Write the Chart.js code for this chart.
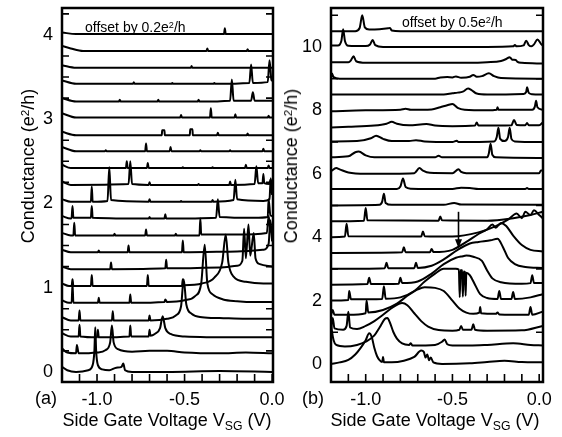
<!DOCTYPE html>
<html><head><meta charset="utf-8">
<script src="https://cdn.jsdelivr.net/npm/chart.js@4/dist/chart.umd.min.js"></script>
<style>
html,body{margin:0;padding:0;background:#fff;}
#wrap{position:relative;width:562px;height:437px;overflow:hidden;font-family:"Liberation Sans",Arial,Helvetica,sans-serif;color:#000;}
canvas{position:absolute;top:0;}
.t{position:absolute;white-space:nowrap;font-size:18px;line-height:18px;}
.s{font-size:14px;line-height:14px;}
sup{font-size:65%;vertical-align:0.45em;line-height:0;}
sub{font-size:68%;vertical-align:-0.3em;line-height:0;}
.rot{transform:translate(-50%,-50%) rotate(-90deg);}
.ctr{transform:translate(-50%,-50%);}
</style></head>
<body><div id="wrap">
<canvas id="ca" width="300" height="437" style="left:0px"></canvas>
<canvas id="cb" width="267" height="437" style="left:295px"></canvas>
<div class="t rot" style="left:28px;top:166px">Conductance (e<sup>2</sup>/h)</div>
<div class="t rot" style="left:291px;top:166px">Conductance (e<sup>2</sup>/h)</div>
<div class="t ctr" style="left:167px;top:420px">Side Gate Voltage V<sub>SG</sub> (V)</div>
<div class="t ctr" style="left:435px;top:420px">Side Gate Voltage V<sub>SG</sub> (V)</div>
<div class="t" style="left:35px;top:389px">(a)</div>
<div class="t" style="left:302px;top:389px">(b)</div>
<div class="t s" style="left:85px;top:20px">offset by 0.2e<sup>2</sup>/h</div>
<div class="t s" style="left:402px;top:15px">offset by 0.5e<sup>2</sup>/h</div>
</div>
<script>
// ---------- tick labels ----------
const xTickLabels = [-1.0, -0.5, 0.0];
const xMinorTicks = [-1.1,-1.0,-0.9,-0.8,-0.7,-0.6,-0.5,-0.4,-0.3,-0.2,-0.1,0.0];
const yTickLabelsA = [0, 1, 2, 3, 4];
const yMinorTicksA = [0.25,0.5,0.75,1.25,1.5,1.75,2.25,2.5,2.75,3.25,3.5,3.75,4.25];
const yTickLabelsB = [0, 2, 4, 6, 8, 10];
const yMinorTicksB = [1,3,5,7,9,11];

// ---------- offsets (e^2/h) ----------
const offsetsA = [0,0.2,0.4,0.6,0.8,1.0,1.2,1.4,1.6,1.8,2.0,2.2,2.4,2.6,2.8,3.0,3.2,3.4,3.6,3.8,4.0];
const offsetsB = [0,0.5,1.0,1.5,2.0,2.5,3.0,3.5,4.0,4.5,5.0,5.5,6.0,6.5,7.0,7.5,8.0,8.5,9.0,9.5,10.0,10.5];

// ---------- panel (a) traces: [V_SG, G before offset] ----------
const a00 = [[-1.2,0.06],[-1.17,0.02],[-1.12,0],[-1.05,0.02],[-1.025,0.08],[-1.015,0.25],[-1.01,0.53],[-1.005,0.25],[-0.995,0.08],[-0.97,0.03],[-0.93,0.02],[-0.89,0.05],[-0.86,0.06],[-0.85,0.1],[-0.84,0.02],[-0.8,0],[-0.6,0],[-0.3,0.01],[0,0]];
const a01 = [[-1.2,0.08],[-1.17,0.03],[-1.12,0.02],[-1.115,0.12],[-1.105,0.02],[-1.0,0.03],[-0.95,0.06],[-0.925,0.15],[-0.915,0.35],[-0.905,0.15],[-0.88,0.07],[-0.8,0.04],[-0.7,0.05],[-0.6,0.05],[-0.5,0.03],[-0.3,0.02],[-0.15,0.03],[0,0.02]];
const a02 = [[-1.2,0.06],[-1.15,0.02],[-1.105,0.02],[-1.1,0.16],[-1.095,0.02],[-1.0,0.01],[-0.995,0.1],[-0.99,0.01],[-0.815,0.02],[-0.81,0.15],[-0.805,0.02],[-0.705,0.02],[-0.7,0.1],[-0.695,0.03],[-0.67,0.05],[-0.64,0.12],[-0.625,0.26],[-0.61,0.12],[-0.58,0.05],[-0.5,0.02],[-0.2,0.01],[0,0.01]];
const a03 = [[-1.2,0.05],[-1.15,0.01],[-1.105,0.01],[-1.1,0.13],[-1.095,0.01],[-0.915,0.01],[-0.91,0.12],[-0.905,0.01],[-0.705,0.01],[-0.7,0.07],[-0.695,0.01],[-0.6,0.03],[-0.55,0.07],[-0.52,0.18],[-0.505,0.5],[-0.49,0.2],[-0.46,0.09],[-0.4,0.05],[-0.3,0.04],[-0.15,0.03],[0,0.03]];
const a04 = [[-1.2,0.05],[-1.16,0.02],[-1.145,0.02],[-1.14,0.25],[-1.135,0.02],[-0.995,0.02],[-0.99,0.08],[-0.985,0.02],[-0.815,0.02],[-0.81,0.12],[-0.805,0.02],[-0.615,0.03],[-0.61,0.06],[-0.6,0.03],[-0.5,0.05],[-0.44,0.1],[-0.405,0.25],[-0.385,0.71],[-0.37,0.25],[-0.34,0.12],[-0.28,0.06],[-0.2,0.04],[-0.1,0.03],[0,0.03]];
const a05 = [[-1.2,0.05],[-1.16,0.02],[-1.145,0.02],[-1.14,0.1],[-1.135,0.02],[-1.035,0.02],[-1.03,0.15],[-1.025,0.02],[-0.715,0.02],[-0.71,0.15],[-0.705,0.02],[-0.515,0.02],[-0.51,0.1],[-0.505,0.03],[-0.4,0.05],[-0.33,0.12],[-0.285,0.3],[-0.265,0.63],[-0.25,0.3],[-0.22,0.13],[-0.15,0.07],[-0.05,0.05],[0,0.05]];
const a06 = [[-1.2,0.05],[-1.15,0.02],[-0.925,0.02],[-0.92,0.1],[-0.915,0.02],[-0.61,0.03],[-0.605,0.13],[-0.6,0.03],[-0.3,0.04],[-0.2,0.06],[-0.17,0.12],[-0.16,0.5],[-0.15,0.15],[-0.135,0.55],[-0.125,0.18],[-0.105,0.45],[-0.095,0.15],[-0.07,0.08],[0,0.05]];
const a07 = [[-1.2,0.05],[-1.15,0.02],[-0.995,0.02],[-0.99,0.04],[-0.985,0.02],[-0.825,0.02],[-0.82,0.1],[-0.815,0.02],[-0.515,0.02],[-0.51,0.16],[-0.505,0.02],[-0.2,0.03],[-0.05,0.05],[-0.02,0.12],[-0.01,0.4],[0,0.15]];
const a08 = [[-1.2,0.05],[-1.15,0.02],[-1.135,0.02],[-1.13,0.17],[-1.125,0.02],[-0.905,0.02],[-0.9,0.04],[-0.895,0.02],[-0.725,0.02],[-0.72,0.09],[-0.715,0.02],[-0.555,0.02],[-0.55,0.04],[-0.545,0.02],[-0.415,0.02],[-0.41,0.22],[-0.405,0.03],[-0.2,0.03],[-0.03,0.05],[-0.02,0.25],[-0.01,0.08],[0,0.06]];
const a09 = [[-1.2,0.05],[-1.15,0.02],[-1.145,0.03],[-1.14,0.17],[-1.135,0.03],[-1.035,0.03],[-1.03,0.17],[-1.025,0.03],[-0.705,0.02],[-0.7,0.04],[-0.695,0.02],[-0.615,0.02],[-0.61,0.07],[-0.605,0.02],[-0.32,0.03],[-0.31,0.25],[-0.3,0.04],[-0.1,0.03],[-0.025,0.04],[-0.02,0.25],[-0.01,0.06],[0,0.05]];
const a10 = [[-1.2,0.05],[-1.15,0.02],[-1.035,0.02],[-1.03,0.2],[-1.025,0.02],[-0.94,0.03],[-0.93,0.43],[-0.92,0.04],[-0.705,0.02],[-0.7,0.05],[-0.695,0.02],[-0.525,0.02],[-0.52,0.03],[-0.515,0.02],[-0.345,0.02],[-0.34,0.04],[-0.335,0.02],[-0.22,0.04],[-0.21,0.28],[-0.2,0.05],[-0.05,0.03],[-0.015,0.05],[-0.008,0.3],[0,0.1]];
const a11 = [[-1.2,0.06],[-1.15,0.02],[-0.82,0.03],[-0.81,0.3],[-0.8,0.03],[-0.705,0.02],[-0.7,0.05],[-0.695,0.02],[-0.425,0.02],[-0.42,0.03],[-0.415,0.02],[-0.245,0.02],[-0.24,0.06],[-0.235,0.02],[-0.1,0.03],[-0.09,0.24],[-0.08,0.04],[-0.055,0.04],[-0.05,0.15],[-0.045,0.04],[-0.015,0.03],[-0.01,0.08],[0,0.03]];
const a12 = [[-1.2,0.06],[-1.15,0.02],[-0.835,0.02],[-0.83,0.1],[-0.825,0.02],[-0.715,0.02],[-0.71,0.08],[-0.705,0.02],[-0.515,0.02],[-0.51,0.03],[-0.505,0.02],[-0.345,0.02],[-0.34,0.03],[-0.335,0.02],[-0.155,0.02],[-0.15,0.06],[-0.145,0.02],[-0.025,0.02],[-0.02,0.05],[-0.015,0.02],[0,0.02]];
const a13 = [[-1.2,0.07],[-1.12,0.02],[-0.955,0.02],[-0.95,0.03],[-0.945,0.02],[-0.725,0.02],[-0.72,0.11],[-0.715,0.02],[-0.585,0.02],[-0.58,0.07],[-0.575,0.02],[-0.415,0.02],[-0.41,0.03],[-0.405,0.02],[-0.245,0.02],[-0.24,0.03],[-0.235,0.02],[-0.055,0.02],[-0.05,0.05],[-0.045,0.02],[0,0.02]];
const a14 = [[-1.2,0.05],[-1.12,0.01],[-0.63,0.01],[-0.628,0.07],[-0.615,0.07],[-0.613,0.01],[-0.47,0.01],[-0.468,0.08],[-0.455,0.08],[-0.453,0.01],[-0.315,0.01],[-0.31,0.04],[-0.305,0.01],[-0.145,0.01],[-0.14,0.03],[-0.135,0.01],[0,0.01]];
const a15 = [[-1.2,0.07],[-1.12,0.02],[-0.525,0.02],[-0.52,0.05],[-0.515,0.02],[-0.355,0.02],[-0.35,0.13],[-0.345,0.02],[-0.215,0.02],[-0.21,0.06],[-0.205,0.02],[-0.025,0.02],[-0.02,0.04],[-0.015,0.02],[0,0.02]];
const a16 = [[-1.2,0.05],[-1.12,0.01],[-0.875,0.01],[-0.87,0.03],[-0.865,0.01],[-0.655,0.01],[-0.65,0.03],[-0.645,0.01],[-0.425,0.01],[-0.42,0.03],[-0.415,0.01],[-0.24,0.02],[-0.23,0.27],[-0.22,0.02],[-0.12,0.02],[-0.11,0.12],[-0.1,0.02],[0,0.02]];
const a17 = [[-1.2,0.06],[-1.12,0.02],[-0.795,0.02],[-0.79,0.04],[-0.785,0.02],[-0.575,0.02],[-0.57,0.03],[-0.565,0.02],[-0.335,0.02],[-0.33,0.03],[-0.325,0.02],[-0.13,0.03],[-0.12,0.25],[-0.11,0.03],[-0.025,0.04],[-0.015,0.3],[-0.005,0.08],[0,0.05]];
const a18 = [[-1.2,0.04],[-1.12,0.01],[-0.465,0.01],[-0.46,0.03],[-0.455,0.01],[0,0.01]];
const a19 = [[-1.2,0.07],[-1.15,0.04],[-1.08,0.01],[-0.375,0.01],[-0.37,0.04],[-0.365,0.01],[-0.145,0.01],[-0.14,0.03],[-0.135,0.01],[0,0.01]];
const a20 = [[-1.2,0.03],[-1.12,0.01],[-0.275,0.01],[-0.27,0.08],[-0.265,0.01],[0,0.01]];

// ---------- panel (b) traces ----------
const b00 = [[-1.2,0],[-1.15,0.05],[-1.1,0.13],[-1.06,0.3],[-1.03,0.5],[-1.0,0.75],[-0.98,0.97],[-0.965,0.85],[-0.95,0.5],[-0.935,0.25],[-0.92,0.12],[-0.905,0.06],[-0.9,0.22],[-0.895,0.05],[-0.85,0.05],[-0.78,0.1],[-0.72,0.22],[-0.68,0.42],[-0.665,0.38],[-0.655,0.2],[-0.645,0.3],[-0.635,0.12],[-0.625,0.2],[-0.61,0.05],[-0.56,0.0],[-0.4,0.02],[-0.3,0.06],[-0.2,0.1],[-0.1,0.06],[0.02,0.05]];
const b01 = [[-1.2,0.8],[-1.195,0.55],[-1.185,0.25],[-1.17,0.1],[-1.12,0.05],[-1.05,0.1],[-1.0,0.2],[-0.95,0.4],[-0.92,0.65],[-0.89,0.92],[-0.875,0.95],[-0.86,0.8],[-0.84,0.5],[-0.82,0.3],[-0.79,0.15],[-0.75,0.1],[-0.74,0.15],[-0.73,0.08],[-0.6,0.1],[-0.56,0.2],[-0.545,0.27],[-0.53,0.12],[-0.5,0.08],[-0.4,0.08],[-0.3,0.1],[-0.15,0.15],[-0.05,0.1],[0.02,0.08]];
const b02 = [[-1.2,0.1],[-1.19,0.45],[-1.18,0.12],[-1.13,0.08],[-1.11,0.2],[-1.1,0.65],[-1.09,0.15],[-1.05,0.1],[-1.0,0.2],[-0.95,0.35],[-0.9,0.55],[-0.84,0.8],[-0.79,0.92],[-0.76,0.85],[-0.72,0.6],[-0.68,0.35],[-0.64,0.18],[-0.58,0.07],[-0.5,0.05],[-0.46,0.08],[-0.45,0.2],[-0.44,0.08],[-0.39,0.08],[-0.38,0.25],[-0.37,0.08],[-0.3,0.05],[-0.1,0.06],[0.02,0.2]];
const b03 = [[-1.2,0.05],[-1.19,0.2],[-1.18,0.05],[-1.1,0.05],[-1.0,0.1],[-0.995,0.5],[-0.985,0.12],[-0.9,0.2],[-0.82,0.4],[-0.76,0.65],[-0.7,0.85],[-0.66,0.92],[-0.6,0.9],[-0.55,0.8],[-0.5,0.5],[-0.46,0.25],[-0.42,0.12],[-0.38,0.08],[-0.345,0.12],[-0.34,0.3],[-0.335,0.1],[-0.25,0.08],[-0.24,0.12],[-0.23,0.06],[-0.06,0.05],[-0.05,0.3],[-0.04,0.05],[0.02,0.15]];
const b04 = [[-1.2,0],[-1.1,0.02],[-1.095,0.3],[-1.085,0.04],[-0.905,0.05],[-0.895,0.45],[-0.885,0.06],[-0.8,0.1],[-0.72,0.3],[-0.66,0.6],[-0.6,0.85],[-0.55,1.0],[-0.48,1.0],[-0.463,0.98],[-0.458,0.1],[-0.453,0.96],[-0.445,0.95],[-0.44,0.12],[-0.435,0.92],[-0.428,0.9],[-0.424,0.15],[-0.42,0.88],[-0.4,0.8],[-0.37,0.5],[-0.34,0.2],[-0.3,0.08],[-0.24,0.05],[-0.23,0.3],[-0.22,0.05],[-0.16,0.05],[-0.15,0.27],[-0.14,0.05],[-0.05,0.1],[0.02,0.2]];
const b05 = [[-1.2,0],[-0.99,0.02],[-0.98,0.22],[-0.97,0.02],[-0.81,0.03],[-0.8,0.22],[-0.79,0.05],[-0.7,0.1],[-0.62,0.35],[-0.55,0.65],[-0.48,0.85],[-0.44,0.9],[-0.42,0.92],[-0.38,0.88],[-0.33,0.75],[-0.3,0.45],[-0.27,0.2],[-0.22,0.08],[-0.1,0.03],[-0.05,0.05],[-0.04,0.3],[-0.03,0.05],[0.02,0.05]];
const b06 = [[-1.2,0],[-0.89,0.02],[-0.88,0.19],[-0.87,0.02],[-0.72,0.02],[-0.71,0.19],[-0.7,0.03],[-0.62,0.1],[-0.55,0.3],[-0.47,0.6],[-0.4,0.8],[-0.35,0.85],[-0.28,0.9],[-0.24,0.95],[-0.21,0.7],[-0.18,0.35],[-0.14,0.15],[-0.08,0.06],[0.02,0.03]];
const b07 = [[-1.2,0],[-0.79,0.02],[-0.78,0.18],[-0.77,0.02],[-0.63,0.02],[-0.62,0.13],[-0.61,0.03],[-0.5,0.1],[-0.42,0.35],[-0.35,0.6],[-0.3,0.75],[-0.27,0.9],[-0.25,0.8],[-0.22,0.95],[-0.19,0.85],[-0.15,0.55],[-0.1,0.25],[-0.05,0.1],[0.02,0.05]];
const b08 = [[-1.2,0],[-1.12,0.02],[-1.11,0.42],[-1.1,0.03],[-0.68,0.02],[-0.67,0.18],[-0.66,0.03],[-0.5,0.02],[-0.35,0.15],[-0.25,0.35],[-0.18,0.55],[-0.13,0.75],[-0.1,0.6],[-0.08,0.8],[-0.05,0.7],[-0.03,0.85],[0.0,0.7],[0.02,0.6]];
const b09 = [[-1.2,0],[-1.01,0.02],[-1.0,0.42],[-0.99,0.03],[-0.58,0.02],[-0.57,0.15],[-0.56,0.03],[-0.3,0.02],[-0.15,0.1],[-0.05,0.2],[0.02,0.3]];
const b10 = [[-1.2,0],[-0.92,0.02],[-0.905,0.12],[-0.895,0.37],[-0.885,0.08],[-0.85,0.02],[-0.55,0.02],[-0.49,0.08],[-0.45,0.03],[0.02,0.02]];
const b11 = [[-1.2,0.02],[-0.82,0.02],[-0.8,0.1],[-0.785,0.35],[-0.77,0.08],[-0.74,0.03],[-0.5,0.02],[-0.45,0.06],[-0.4,0.05],[-0.35,0.02],[-0.08,0.02],[-0.07,0.05],[-0.06,0.02],[0.02,0.02]];
const b12 = [[-1.2,0.08],[-1.17,0.18],[-1.15,0.14],[-1.1,0.04],[-1.0,0],[-0.72,0.02],[-0.69,0.18],[-0.67,0.1],[-0.63,0.03],[-0.5,0.02],[-0.465,0.14],[-0.45,0.06],[-0.42,0.02],[0,0.02],[0.01,0.1],[0.02,0.1]];
const b13 = [[-1.2,0.02],[-1.1,0.05],[-1.06,0.18],[-1.04,0.2],[-1.0,0.08],[-0.95,0.02],[-0.6,0.02],[-0.58,0.07],[-0.56,0.02],[-0.3,0.02],[-0.29,0.15],[-0.28,0.45],[-0.27,0.1],[-0.25,0.02],[0.02,0]];
const b14 = [[-1.2,0.02],[-1.05,0.03],[-0.97,0.12],[-0.94,0.2],[-0.9,0.1],[-0.85,0.03],[-0.75,0.03],[-0.71,0.06],[-0.66,0.02],[-0.5,0],[-0.475,0.04],[-0.465,0],[-0.26,0.02],[-0.245,0.15],[-0.235,0.45],[-0.225,0.1],[-0.2,0.03],[-0.18,0.15],[-0.17,0.45],[-0.16,0.1],[-0.14,0.02],[0.02,0]];
const b15 = [[-1.2,-0.04],[-1.1,-0.02],[-0.95,0.02],[-0.88,0.08],[-0.85,0.14],[-0.82,0.08],[-0.75,0.03],[-0.65,0.07],[-0.6,0.02],[-0.5,0],[-0.37,0.02],[-0.36,0.12],[-0.35,0.02],[-0.16,0.03],[-0.145,0.2],[-0.13,0.04],[-0.08,0.03],[-0.07,0.1],[-0.06,0.03],[0,0.03],[0.02,0.12]];
const b16 = [[-1.2,-0.03],[-1.0,0],[-0.8,0.02],[-0.77,0.05],[-0.74,0.02],[-0.62,0.03],[-0.57,0.1],[-0.53,0.16],[-0.5,0.2],[-0.47,0.08],[-0.43,0.02],[-0.3,0],[-0.245,0.02],[-0.24,0.1],[-0.235,0.02],[-0.04,0.02],[-0.025,0.12],[-0.018,0.3],[-0.01,0.1],[0.02,0.02]];
const b17 = [[-1.2,0],[-0.55,0],[-0.5,0.04],[-0.47,0.06],[-0.44,0.09],[-0.41,0.19],[-0.39,0.14],[-0.36,0.03],[-0.3,0],[-0.09,0.02],[-0.075,0.08],[-0.07,0.23],[-0.06,0.05],[-0.04,0.01],[0.02,0]];
const b18 = [[-1.2,0.02],[-1.195,0.16],[-1.185,0.05],[-1.15,0],[-0.6,0],[-0.57,0.04],[-0.53,0.05],[-0.5,0.04],[-0.48,0.07],[-0.45,0.03],[-0.4,0.06],[-0.38,0.12],[-0.36,0.06],[-0.33,0.08],[-0.29,0.17],[-0.26,0.08],[-0.22,0.02],[0.02,0]];
const b19 = [[-1.2,0.02],[-1.1,0.02],[-1.085,0.08],[-1.07,0.21],[-1.055,0.05],[-1.0,0],[-0.4,0],[-0.3,0.02],[-0.22,0.06],[-0.19,0.12],[-0.17,0.18],[-0.155,0.1],[-0.135,0.09],[-0.125,0.03],[-0.1,0],[0.02,-0.02]];
const b20 = [[-1.2,0.05],[-1.16,0.05],[-1.14,0.2],[-1.13,0.56],[-1.12,0.2],[-1.1,0.04],[-1.0,0.03],[-0.975,0.08],[-0.96,0.22],[-0.945,0.06],[-0.9,0],[-0.3,0],[-0.15,0.02],[-0.14,0.06],[-0.13,0.02],[-0.09,0.05],[-0.075,0.2],[-0.06,0.06],[-0.045,0.02],[-0.03,0.08],[-0.01,0.24],[0.01,0.1],[0.02,0.05]];
const b21 = [[-1.2,0],[-1.06,0],[-1.035,0.1],[-1.02,0.5],[-1.005,0.12],[-0.98,0.05],[-0.92,0.06],[-0.87,0.09],[-0.86,0.1],[-0.85,0.02],[-0.8,0],[0.02,0]];

// arrow marker in panel (b): [V_SG, from G, to G]
const arrowB = [-0.465, 4.8, 3.65];

const tracesA = [a00,a01,a02,a03,a04,a05,a06,a07,a08,a09,a10,a11,a12,a13,a14,a15,a16,a17,a18,a19,a20];
const tracesB = [b00,b01,b02,b03,b04,b05,b06,b07,b08,b09,b10,b11,b12,b13,b14,b15,b16,b17,b18,b19,b20,b21];

Chart.defaults.font.family = "'Liberation Sans', Arial, Helvetica, sans-serif";
Chart.defaults.font.size = 18;
Chart.defaults.color = '#000';

const decor = {
  id: 'decor',
  afterDraw(chart, args, o) {
    const ctx = chart.ctx, a = chart.chartArea, xs = chart.scales.x, ys = chart.scales.y;
    ctx.save();
    ctx.strokeStyle = '#000';
    ctx.lineWidth = 1.6;
    ctx.beginPath();
    o.xMinor.forEach(v => { const px = xs.getPixelForValue(v); ctx.moveTo(px, a.bottom); ctx.lineTo(px, a.bottom - 8); });
    o.yMinor.forEach(v => { const py = ys.getPixelForValue(v); ctx.moveTo(a.left, py); ctx.lineTo(a.left + 7, py); ctx.moveTo(a.right, py); ctx.lineTo(a.right - 7, py); });
    ctx.stroke();
    ctx.lineWidth = 2.5;
    ctx.strokeRect(a.left, a.top, a.right - a.left, a.bottom - a.top);
    if (o.arrow) {
      const px = xs.getPixelForValue(o.arrow[0]);
      const p1 = ys.getPixelForValue(o.arrow[1]);
      const p2 = ys.getPixelForValue(o.arrow[2]);
      ctx.lineWidth = 1.6;
      ctx.beginPath(); ctx.moveTo(px, p1); ctx.lineTo(px, p2 - 6); ctx.stroke();
      ctx.beginPath(); ctx.moveTo(px - 3.5, p2 - 9); ctx.lineTo(px + 3.5, p2 - 9); ctx.lineTo(px, p2); ctx.closePath(); ctx.fillStyle = '#000'; ctx.fill();
    }
    ctx.restore();
  }
};

function makePanel(id, traces, offsets, cfg) {
  return new Chart(document.getElementById(id), {
    type: 'line',
    data: {
      datasets: traces.map((t, i) => ({
        data: t.map(p => ({ x: p[0], y: p[1] + offsets[i] })),
        borderColor: '#000', borderWidth: 2, pointRadius: 0,
        cubicInterpolationMode: 'monotone', fill: false
      }))
    },
    options: {
      responsive: false, animation: false, devicePixelRatio: 1,
      layout: { padding: { top: 8, right: cfg.padRight, left: 0, bottom: 0 } },
      plugins: { legend: { display: false }, tooltip: { enabled: false },
        decor: { xMinor: xMinorTicks, yMinor: cfg.yMinor, arrow: cfg.arrow } },
      scales: {
        x: {
          type: 'linear', min: -1.2, max: cfg.xmax,
          grid: { display: false, drawTicks: false }, border: { display: false },
          afterBuildTicks: s => { s.ticks = xTickLabels.map(v => ({ value: v })); },
          afterFit: s => { s.height = 55; s.paddingLeft = 0; s.paddingRight = 0; },
          ticks: { padding: 7, maxRotation: 0, autoSkip: false, callback: v => Number(v).toFixed(1) }
        },
        y: {
          type: 'linear', min: cfg.ymin, max: cfg.ymax,
          grid: { display: false, drawTicks: false }, border: { display: false },
          afterBuildTicks: s => { s.ticks = cfg.yLabels.map(v => ({ value: v })); },
          afterFit: s => { s.width = cfg.yw; s.paddingTop = 0; s.paddingBottom = 0; },
          ticks: { padding: 9, autoSkip: false, callback: v => String(v) }
        }
      }
    },
    plugins: [decor]
  });
}

makePanel('ca', tracesA, offsetsA, { padRight: 27, yw: 62, xmax: 0.005, ymin: -0.12, ymax: 4.32, yLabels: yTickLabelsA, yMinor: yMinorTicksA, arrow: null });
makePanel('cb', tracesB, offsetsB, { padRight: 19, yw: 36, xmax: 0.022, ymin: -0.57, ymax: 11.23, yLabels: yTickLabelsB, yMinor: yMinorTicksB, arrow: arrowB });
</script>
</body></html>
